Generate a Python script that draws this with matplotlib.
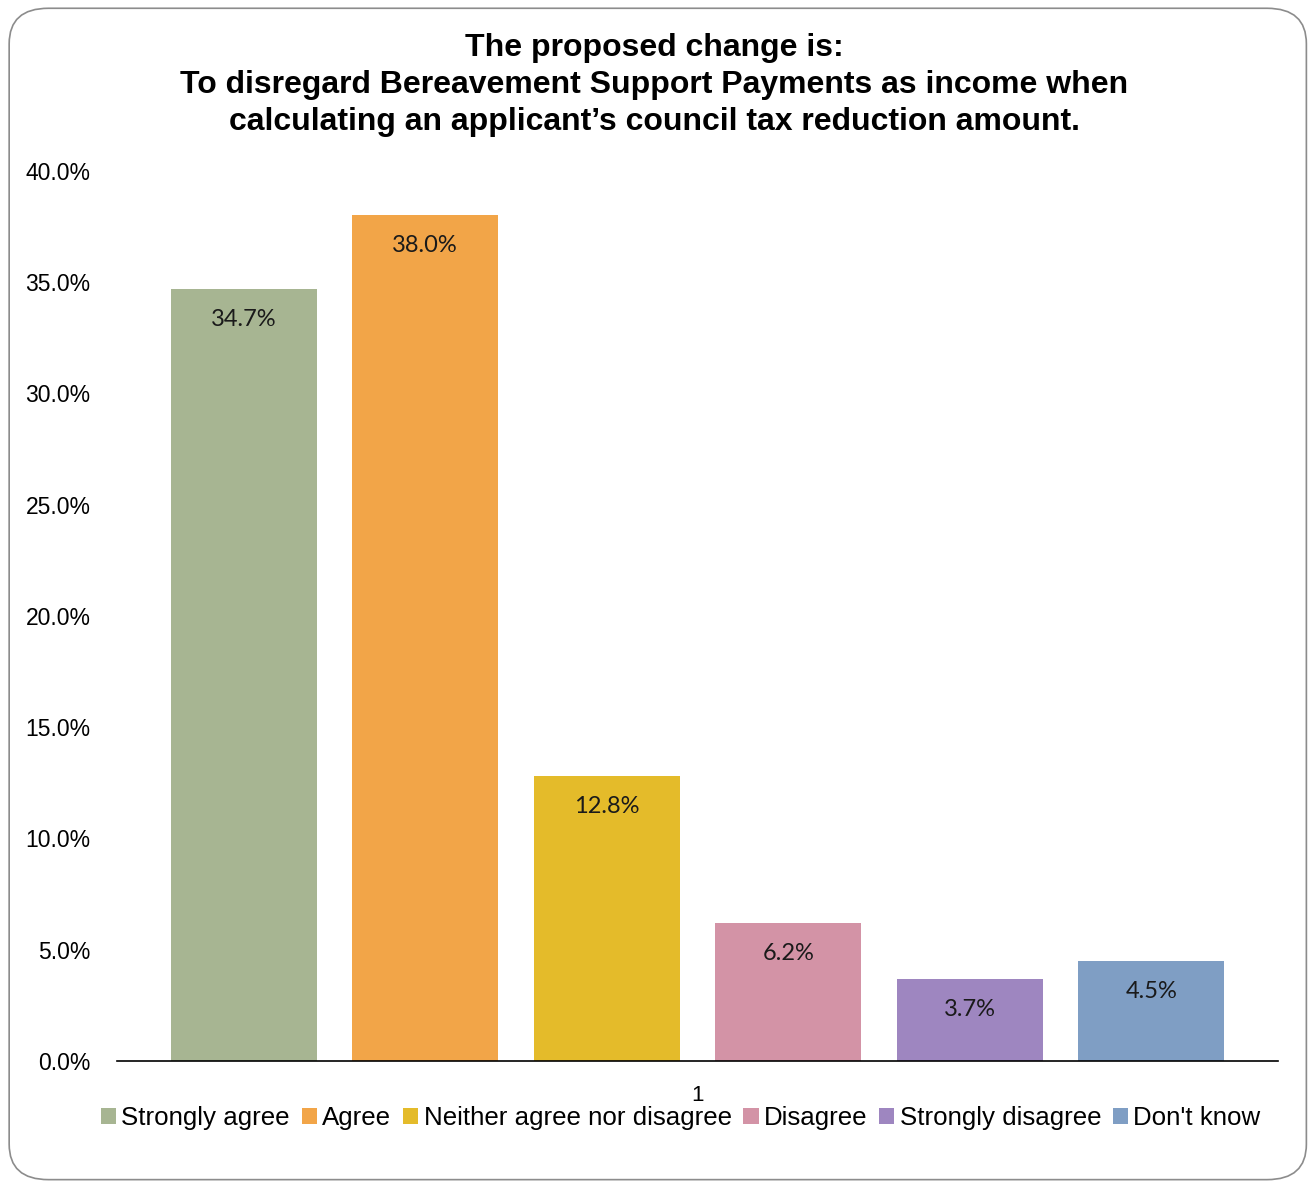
#!/usr/bin/env python3
"""
Bar chart: council tax reduction consultation responses
"""

import matplotlib
matplotlib.use('Agg')
import matplotlib.pyplot as plt
from matplotlib.patches import FancyBboxPatch

categories = ['Strongly agree', 'Agree', 'Neither agree nor disagree',
              'Disagree', 'Strongly disagree', "Don't know"]
values = [34.7, 38.0, 12.8, 6.2, 3.7, 4.5]
colors = ['#A7B592', '#F2A548', '#E4BB2A', '#D393A6', '#9E86C0', '#7F9EC4']
yticks = [0, 5, 10, 15, 20, 25, 30, 35, 40]

title = ("The proposed change is:\n"
         "To disregard Bereavement Support Payments as income when\n"
         "calculating an applicant\u2019s council tax reduction amount.")

fig = plt.figure(figsize=(13.09, 11.82), dpi=100)

# rounded border round the chart area
border = FancyBboxPatch((0.007, 0.002), 0.991, 0.991,
                        boxstyle="round,pad=0,rounding_size=0.03",
                        transform=fig.transFigure, facecolor='white',
                        edgecolor='#8c8c8c', linewidth=1.2, zorder=-5)
fig.patches.append(border)

ax = fig.add_axes([0.0894, 0.1024, 0.887, 0.753])
ax.patch.set_alpha(0)
ax.set_zorder(2)

n = len(values)
positions = [i - (n - 1) / 2 for i in range(n)]
bars = ax.bar(positions, values, width=0.804, color=colors, label=categories)

for x, v in zip(positions, values):
    ax.annotate(f'{v:.1f}%', (x, v), textcoords='offset points',
                xytext=(0, -22), ha='center', va='center',
                fontsize=17, family=['Lato', 'DejaVu Sans'], color='#1a1a1a')

ax.set_xlim(-3.198, 3.198)
ax.set_ylim(0, 40)
ax.set_yticks(yticks)
ax.set_yticklabels([f'{t:.1f}%' for t in yticks],
                   fontsize=16.5, family='Liberation Sans')
ax.set_xticks([0])
ax.set_xticklabels(['1'], fontsize=16, family='Liberation Sans')
ax.tick_params(axis='y', length=0, pad=19)
ax.tick_params(axis='x', length=0, pad=17)

for side in ['top', 'right', 'left']:
    ax.spines[side].set_visible(False)
ax.spines['bottom'].set_linewidth(1.2)

fig.text(0.5, 0.972, title, ha='center', va='top', fontsize=23,
         fontweight='bold', family='Liberation Sans', linespacing=1.3)

fig.legend(bars, categories, loc='center', bbox_to_anchor=(0.52, 0.054),
           ncol=6, frameon=False, handlelength=0.6, handleheight=0.6,
           handletextpad=0.2, columnspacing=0.45,
           prop={'family': 'Liberation Sans', 'size': 18.6})

plt.savefig('out.png', dpi=100)
plt.close()
